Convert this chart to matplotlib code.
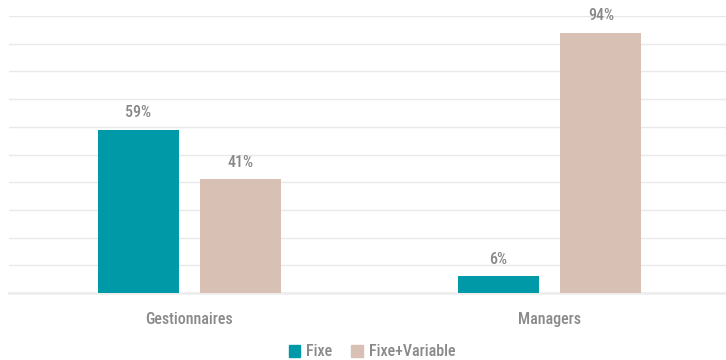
import matplotlib.pyplot as plt
import numpy as np
from matplotlib import font_manager
from matplotlib.patches import Patch

categories = ["Gestionnaires", "Managers"]
series_names = ["Fixe", "Fixe+Variable"]
fixe = [59, 6]
fixe_variable = [41, 94]
colors = ["#0099a8", "#d9c0b4"]


def _pick_font():
    available = {f.name for f in font_manager.fontManager.ttflist}
    for name in ["Roboto Condensed", "Liberation Sans Narrow", "Roboto"]:
        if name in available:
            return name
    return "DejaVu Sans"


plt.rcParams["font.family"] = [_pick_font(), "DejaVu Sans"]
plt.rcParams["font.weight"] = "medium"

fig = plt.figure(figsize=(7.26, 3.6), dpi=100)
ax = fig.add_axes([9 / 726, 1 - 293 / 360, 721 / 726, 277 / 360])

x = np.arange(len(categories))
width = 0.225
offset = 0.142
for vals, off, color in [(fixe, -offset, colors[0]), (fixe_variable, offset, colors[1])]:
    bars = ax.bar(x + off, vals, width, color=color, zorder=3)
    for rect, v in zip(bars, vals):
        ax.text(rect.get_x() + rect.get_width() / 2, v + 3.3, f"{v}%",
                ha="center", va="bottom", fontsize=11.5, color="#888888")

ax.set_xlim(-0.5, 1.5)
ax.set_ylim(0, 100)
ax.set_yticks(np.arange(0, 101, 10))
ax.yaxis.grid(True, color="#e9e9e9", linewidth=1, zorder=0)
ax.tick_params(axis="y", left=False, labelleft=False)
ax.tick_params(axis="x", bottom=False, labelsize=11.5, labelcolor="#8a8a8a", pad=10)
ax.set_xticks(x)
ax.set_xticklabels(categories)
for side in ["top", "right", "left"]:
    ax.spines[side].set_visible(False)
ax.spines["bottom"].set_color("#eeeeee")
ax.spines["bottom"].set_linewidth(2)

handles = [Patch(color=c) for c in colors]
fig.legend(handles, series_names, loc="center", bbox_to_anchor=(372 / 726, 1 - 352 / 360),
           ncol=2, frameon=False, fontsize=11.5, labelcolor="#8a8a8a",
           handlelength=0.7, handleheight=0.7, handletextpad=0.4, columnspacing=1.2)

fig.savefig("out.png", dpi=100)
